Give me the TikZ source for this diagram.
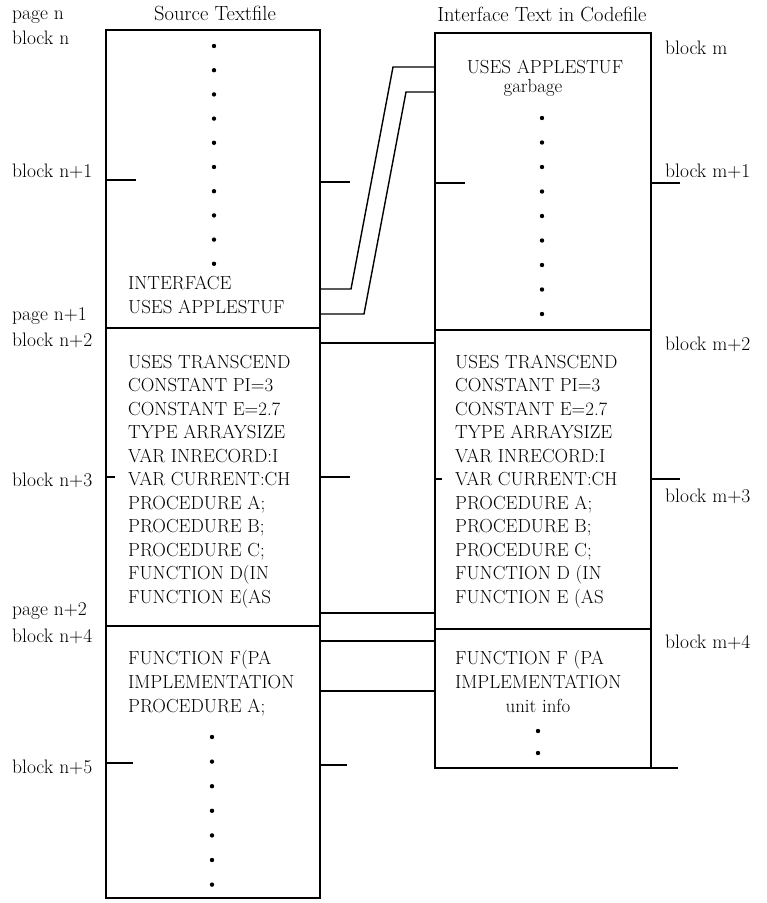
\documentclass[tikz,border=0pt]{standalone}
\tikzset{
  txt/.style={anchor=base west,inner sep=0pt,font=\fontsize{18.9}{22}\selectfont},
  lbl/.style={txt,font=\fontsize{19.5}{22}\selectfont},
  ttl/.style={txt,anchor=base,font=\fontsize{20.5}{22}\selectfont},
  ctxt/.style={txt,anchor=base},
  frame/.style={line width=1.4pt},
  divider/.style={line width=2.8pt},
  tick/.style={line width=1.3pt},
  link/.style={line width=1.4pt,line join=miter},
}
\begin{document}
\begin{tikzpicture}[x=1pt,y=-1pt]
  \useasboundingbox (0,0) rectangle (767,903);
  % boxes
  \coordinate (srcNW) at (106,30);  \coordinate (srcSE) at (320,898);
  \coordinate (ifcNW) at (435,33);  \coordinate (ifcSE) at (651,768);
  \draw[frame] (srcNW) rectangle (srcSE);
  \draw[frame] (ifcNW) rectangle (ifcSE);
  \draw[divider] (106,30) -- (320,30);
  \draw[divider] (435,33) -- (651,33);
  \draw[divider] (106,328) -- (320,328);
  \draw[divider] (106,626) -- (320,626);
  \draw[divider] (435,330) -- (651,330);
  \draw[divider] (435,629) -- (651,629);
  \draw[tick] (651,768) -- (678,768);
  % titles and block labels
  \node[ttl] (srcT) at (215,20) {Source Textfile};
  \node[ttl] (ifcT) at (542,21) {Interface Text in Codefile};
  \node[lbl] (pg0) at (12,19) {page n};
  \node[lbl] (bn0) at (12,44) {block n};
  \node[lbl] (bn1) at (12,177) {block n+1};
  \node[lbl] (pg1) at (12,320) {page n+1};
  \node[lbl] (bn2) at (12,346) {block n+2};
  \node[lbl] (bn3) at (12,486) {block n+3};
  \node[lbl] (pg2) at (12,615) {page n+2};
  \node[lbl] (bn4) at (12,642) {block n+4};
  \node[lbl] (bn5) at (12,773) {block n+5};
  \node[lbl] (bm0) at (665,54) {block m};
  \node[lbl] (bm1) at (665,177) {block m+1};
  \node[lbl] (bm2) at (665,350) {block m+2};
  \node[lbl] (bm3) at (665,502) {block m+3};
  \node[lbl] (bm4) at (665,648) {block m+4};
  % block boundaries
  \draw[tick] (106,180) -- (136,180);
  \draw[tick] (106,477) -- (115,477);
  \draw[tick] (106,763) -- (133,763);
  \draw[tick] (320,182) -- (350,182);
  \draw[tick] (320,477) -- (350,477);
  \draw[tick] (320,765) -- (347,765);
  \draw[tick] (435,183) -- (465,183);
  \draw[tick] (435,479) -- (442,479);
  \draw[tick] (651,183) -- (680,183);
  \draw[tick] (651,479) -- (680,479);
  % source textfile
  \foreach \y in {0,...,9} \fill (214,46+24.2*\y) circle (2.2pt);
  \node[txt] (srcI) at (128,289) {INTERFACE};
  \node[txt] (srcU) at (128,313) {USES APPLESTUF};
  \foreach \t [count=\i from 0] in {USES TRANSCEND,CONSTANT PI=3,CONSTANT E=2.7,
      TYPE ARRAYSIZE,VAR INRECORD:I,VAR CURRENT:CH,PROCEDURE A;,PROCEDURE B;,
      PROCEDURE C;,{FUNCTION D(IN},{FUNCTION E(AS}}
    \node[txt] (src\i) at (128,368+23.5*\i) {\t};
  \node[txt] (srcF) at (128,664) {FUNCTION F(PA};
  \node[txt] (srcM) at (128,688) {IMPLEMENTATION};
  \node[txt] (srcP) at (128,712) {PROCEDURE A;};
  \foreach \y in {0,...,6} \fill (212,737+24.6*\y) circle (2.2pt);
  % interface text in codefile
  \node[ctxt] (ifcU) at (545,73) {USES APPLESTUF};
  \node[ctxt] (ifcG) at (533,92) {garbage};
  \foreach \y in {0,...,8} \fill (542,118+24.5*\y) circle (2.2pt);
  \foreach \t [count=\i from 0] in {USES TRANSCEND,CONSTANT PI=3,CONSTANT E=2.7,
      TYPE ARRAYSIZE,VAR INRECORD:I,VAR CURRENT:CH,PROCEDURE A;,PROCEDURE B;,
      PROCEDURE C;,{FUNCTION D (IN},{FUNCTION E (AS}}
    \node[txt] (ifc\i) at (455,368+23.5*\i) {\t};
  \node[txt] (ifcF) at (455,664) {FUNCTION F (PA};
  \node[txt] (ifcM) at (455,688) {IMPLEMENTATION};
  \node[ctxt] (ifcN) at (538,712) {unit info};
  \foreach \y in {731,753} \fill (538,\y) circle (2.2pt);
  % links between the files
  \coordinate (lnkA) at (435,67);  \coordinate (lnkA') at (320,289);
  \coordinate (lnkB) at (435,92);  \coordinate (lnkB') at (320,314);
  \draw[link] (lnkA) -- (393,67) -- (351,289) -- (lnkA');
  \draw[link] (lnkB) -- (406,92) -- (364,314) -- (lnkB');
  \foreach \y in {343,613,641,691} \draw[tick] (320,\y) -- (435,\y);
\end{tikzpicture}
\end{document}
